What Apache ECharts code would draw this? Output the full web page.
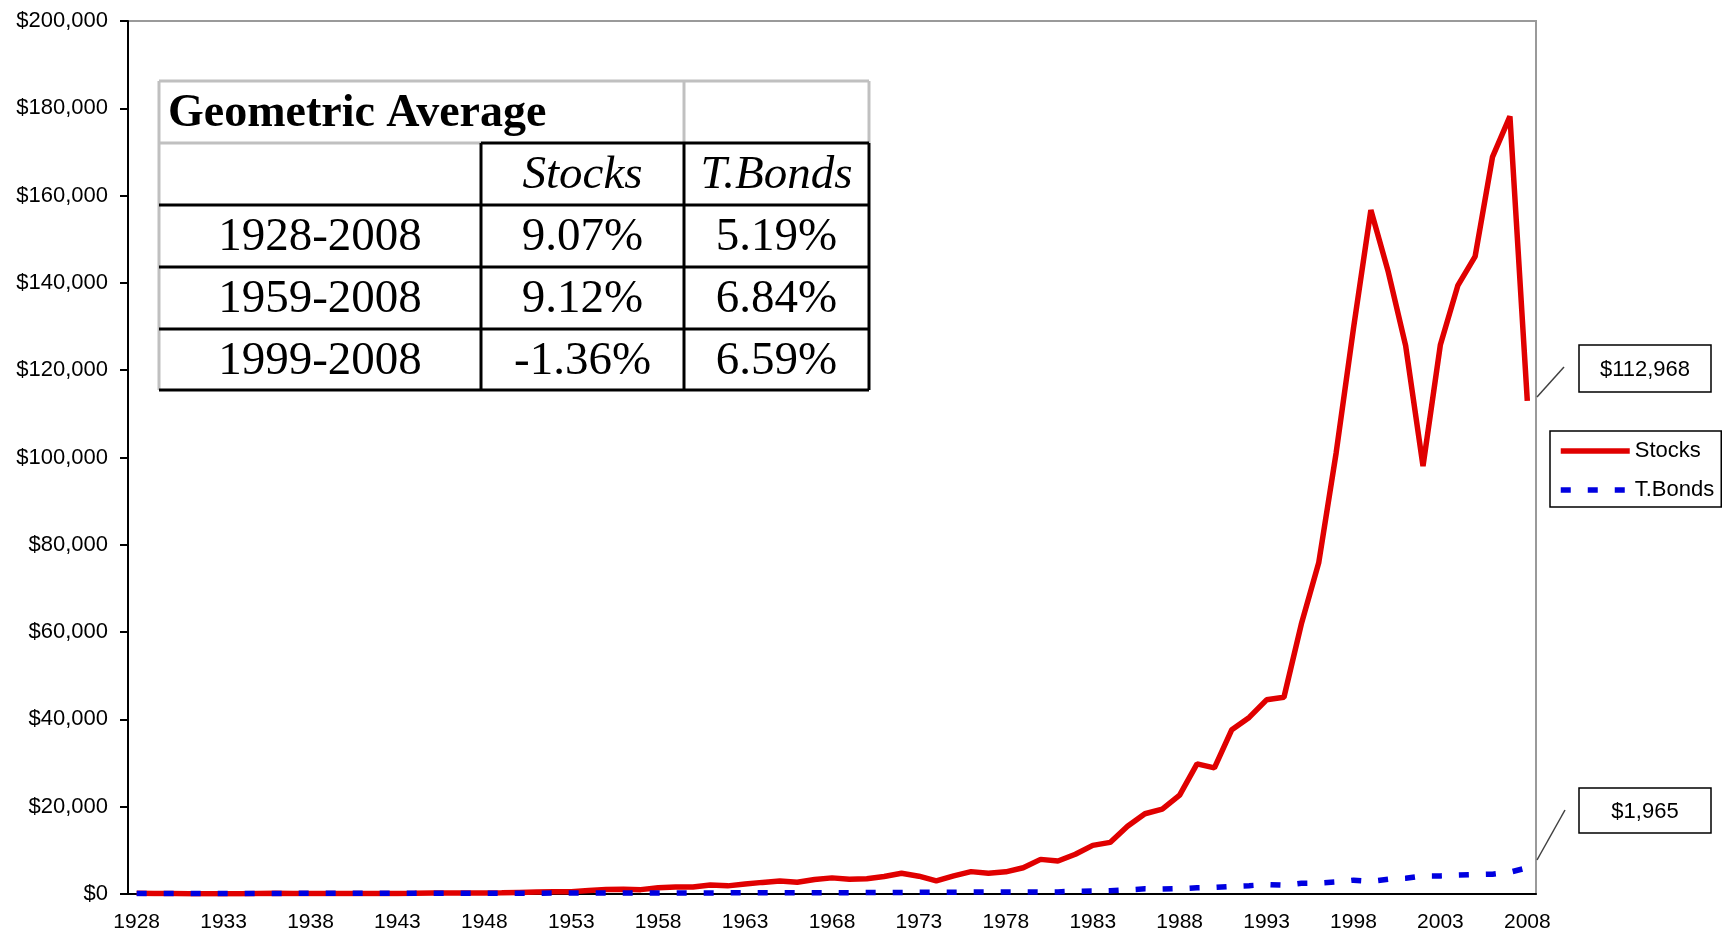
<!DOCTYPE html>
<html>
<head>
<meta charset="utf-8">
<script src="https://cdn.jsdelivr.net/npm/echarts@6/dist/echarts.min.js"></script>
<style>
  html, body { margin: 0; padding: 0; background: #fff; }
  #chart { width: 1730px; height: 940px; }
</style>
</head>
<body>
<div id="chart"></div>
<script>
// ---------- DATA ----------
var years = ['1928','1929','1930','1931','1932','1933','1934','1935','1936','1937',
  '1938','1939','1940','1941','1942','1943','1944','1945','1946','1947',
  '1948','1949','1950','1951','1952','1953','1954','1955','1956','1957',
  '1958','1959','1960','1961','1962','1963','1964','1965','1966','1967',
  '1968','1969','1970','1971','1972','1973','1974','1975','1976','1977',
  '1978','1979','1980','1981','1982','1983','1984','1985','1986','1987',
  '1988','1989','1990','1991','1992','1993','1994','1995','1996','1997',
  '1998','1999','2000','2001','2002','2003','2004','2005','2006','2007','2008'];

var stocks = [144,132,99,55,51,76,75,110,145,94,
  122,120,107,94,112,140,166,226,207,217,
  230,272,356,440,520,513,783,1038,1115,999,
  1435,1609,1614,2044,1864,2285,2661,2990,2692,3333,
  3693,3389,3510,4009,4761,4080,3023,4142,5128,4770,
  5081,6022,7933,7561,9104,11138,11823,15517,18386,19454,
  22672,29809,28897,37633,40451,44484,45076,61844,75870,100984,
  129602,156676,142528,125639,98036,125839,139354,146085,168889,178144,112968];

var tbonds = [101,105,110,107,116,119,128,134,140,142,
  148,155,163,160,164,168,172,179,184,186,
  190,198,199,199,203,212,219,216,211,225,
  220,214,239,244,258,263,272,274,282,278,
  287,273,318,349,359,372,380,394,456,462,
  459,462,448,485,644,664,756,950,1181,1122,
  1214,1429,1518,1746,1909,2181,2005,2476,2512,2761,
  3173,2911,3396,3586,4128,4143,4329,4454,4541,5005,6011];

var seriesNames = ['Stocks', 'T.Bonds'];
var endLabels = ['$112,968', '$1,965'];

var tableTitle = 'Geometric Average';
var tableHeader = ['Stocks', 'T.Bonds'];
var tablePeriods = ['1928-2008', '1959-2008', '1999-2008'];
var tableStocks = ['9.07%', '9.12%', '-1.36%'];
var tableBonds = ['5.19%', '6.84%', '6.59%'];

// ---------- CHART ----------
var SANS = '"Liberation Sans", Arial, sans-serif';
var SERIF = '"Liberation Serif", "Times New Roman", serif';

var chart = echarts.init(document.getElementById('chart'), null, { renderer: 'canvas' });

function fmtMoney(v) {
  return '$' + String(v).replace(/\B(?=(\d{3})+(?!\d))/g, ',');
}

// table geometry (annotation)
var tx = [159, 481, 684, 869];
var ty = [81, 143, 205, 267, 329, 390];
var gray = '#c0c0c0';
var tableEls = [];
tableEls.push({ type: 'rect', shape: { x: tx[0], y: ty[0], width: tx[3] - tx[0], height: ty[5] - ty[0] }, style: { fill: '#fff' } });
function ln(x1, y1, x2, y2, c, w) {
  tableEls.push({ type: 'line', shape: { x1: x1, y1: y1, x2: x2, y2: y2 }, style: { stroke: c, lineWidth: w } });
}
// gray gridlines
ln(tx[0], ty[0], tx[3], ty[0], gray, 3);
ln(tx[0], ty[0], tx[0], ty[5], gray, 3);
ln(tx[0], ty[1], tx[1], ty[1], gray, 3);
ln(tx[2], ty[0], tx[2], ty[1], gray, 3);
ln(tx[3], ty[0], tx[3], ty[1], gray, 3);
// black borders
ln(tx[1], ty[1], tx[3], ty[1], '#000', 3);
for (var r = 2; r <= 5; r++) ln(tx[0], ty[r], tx[3], ty[r], '#000', 3);
ln(tx[1], ty[1], tx[1], ty[5], '#000', 3);
ln(tx[2], ty[1], tx[2], ty[5], '#000', 3);
ln(tx[3], ty[1], tx[3], ty[5], '#000', 3);

function txt(s, x, y, font, align) {
  tableEls.push({ type: 'text', x: x, y: y, style: { text: s, font: font, fill: '#000', align: align || 'center', verticalAlign: 'middle' } });
}
txt(tableTitle, 168, (ty[0] + ty[1]) / 2 + 2, 'bold 46px ' + SERIF, 'left');
txt(tableHeader[0], (tx[1] + tx[2]) / 2, (ty[1] + ty[2]) / 2 + 2, 'italic 47px ' + SERIF);
txt(tableHeader[1], (tx[2] + tx[3]) / 2, (ty[1] + ty[2]) / 2 + 2, 'italic 47px ' + SERIF);
for (var i = 0; i < tablePeriods.length; i++) {
  var cy = (ty[i + 2] + ty[i + 3]) / 2 + 2;
  txt(tablePeriods[i], (tx[0] + tx[1]) / 2, cy, '47px ' + SERIF);
  txt(tableStocks[i], (tx[1] + tx[2]) / 2, cy, '47px ' + SERIF);
  txt(tableBonds[i], (tx[2] + tx[3]) / 2, cy, '47px ' + SERIF);
}

// end-value callouts (annotation)
var callouts = [
  { box: [1579, 345, 132, 47], from: [1537, 397], to: [1564, 367], text: endLabels[0] },
  { box: [1579, 788, 132, 45], from: [1537, 860], to: [1565, 810], text: endLabels[1] }
];
var calloutEls = [];
callouts.forEach(function (c) {
  calloutEls.push({ type: 'line', shape: { x1: c.from[0], y1: c.from[1], x2: c.to[0], y2: c.to[1] }, style: { stroke: '#404040', lineWidth: 1.5 } });
  calloutEls.push({ type: 'rect', shape: { x: c.box[0], y: c.box[1], width: c.box[2], height: c.box[3] }, style: { fill: '#fff', stroke: '#000', lineWidth: 1.5 } });
  calloutEls.push({ type: 'text', x: c.box[0] + c.box[2] / 2, y: c.box[1] + c.box[3] / 2 + 1, style: { text: c.text, font: '22px ' + SANS, fill: '#000', align: 'center', verticalAlign: 'middle' } });
});

var option = {
  animation: false,
  backgroundColor: '#fff',
  grid: { left: 128, right: 194, top: 21, bottom: 46, show: true, borderColor: '#9a9a9a', borderWidth: 2, backgroundColor: 'transparent' },
  legend: {
    orient: 'vertical', left: 1550, top: 431,
    data: seriesNames,
    borderColor: '#000', borderWidth: 1.5, backgroundColor: '#fff',
    padding: [9, 7, 6, 8],
    itemWidth: 69, itemHeight: 14, itemGap: 17,
    itemStyle: { opacity: 0 },
    lineStyle: { width: 'inherit', type: 'inherit' },
    textStyle: { fontSize: 22, lineHeight: 22, color: '#000', fontFamily: SANS }
  },
  xAxis: {
    type: 'category', data: years, boundaryGap: true,
    axisLine: { lineStyle: { color: '#000', width: 2 } },
    axisTick: { interval: 0, length: 8, lineStyle: { color: '#000', width: 2 } },
    axisLabel: { interval: 4, margin: 18, fontSize: 21, color: '#000', fontFamily: SANS },
    splitLine: { show: false }
  },
  yAxis: {
    type: 'value', min: 0, max: 200000, interval: 20000,
    axisLine: { show: true, lineStyle: { color: '#000', width: 2 } },
    axisTick: { show: true, length: 8, lineStyle: { color: '#000', width: 2 } },
    axisLabel: { margin: 20, fontSize: 22, color: '#000', fontFamily: SANS, formatter: fmtMoney },
    splitLine: { show: false }
  },
  series: [
    { name: seriesNames[0], type: 'line', data: stocks, symbol: 'none', smooth: false,
      lineStyle: { color: '#E00000', width: 5.5 }, itemStyle: { color: '#E00000' }, z: 2 },
    { name: seriesNames[1], type: 'line', data: tbonds, symbol: 'none', smooth: false,
      lineStyle: { color: '#0000E0', width: 5.5, type: [10, 17], cap: 'butt' }, itemStyle: { color: '#0000E0' }, z: 3 }
  ],
  graphic: [
    { type: 'group', z: 100, children: tableEls },
    { type: 'group', z: 100, children: calloutEls }
  ]
};
chart.setOption(option);
</script>
</body>
</html>
